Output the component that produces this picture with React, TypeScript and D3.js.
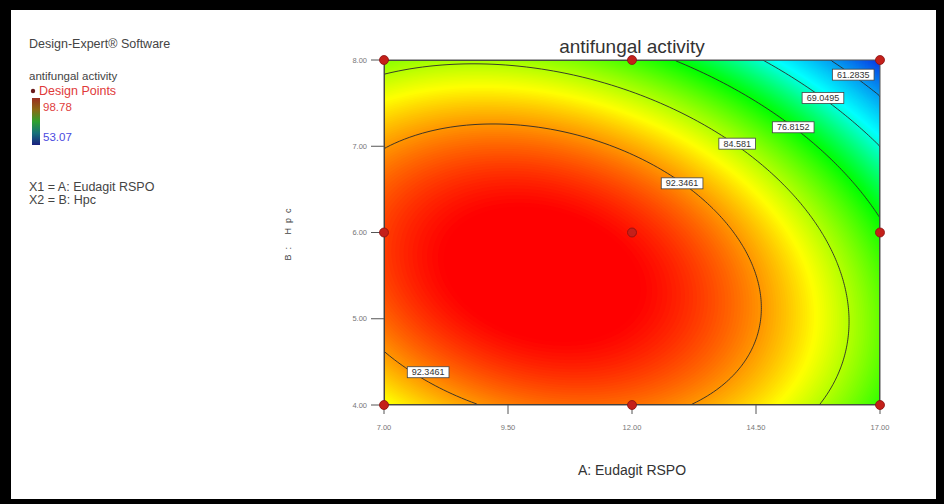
import React from "react";
import * as d3 from "d3";

// factor ranges and tick labels
const rangeA = [7, 17]; // A: Eudagit RSPO
const rangeB = [4, 8]; // B: Hpc
const xTicks = [7.0, 9.5, 12.0, 14.5, 17.0];
const yTicks = [4.0, 5.0, 6.0, 7.0, 8.0];

// design points (face-centred 3x3)
const designA = [7, 12, 17, 7, 12, 17, 7, 12, 17];
const designB = [4, 4, 4, 6, 6, 6, 8, 8, 8];

// fitted quadratic in coded units: const, A, B, AB, A^2, B^2
const coef = [97.91, -9.09, -7.22, -4.95, -10.9, -11.21];
const responseRange = [53.07, 98.78];

// contour levels and where their labels sit (A, B)
const contourLevels = [61.2835, 69.0495, 76.8152, 84.581, 92.3461];
const labelText = ["61.2835", "69.0495", "76.8152", "84.581", "92.3461", "92.3461"];
const labelA = [16.46, 15.85, 15.25, 14.12, 13.01, 7.89];
const labelB = [7.83, 7.56, 7.22, 7.03, 6.57, 4.38];

const font = "'Liberation Sans', Arial, sans-serif";

function model(A: number, B: number) {
  const a = (A - 12) / 5;
  const b = (B - 6) / 2;
  return (
    coef[0] + coef[1] * a + coef[2] * b + coef[3] * a * b + coef[4] * a * a + coef[5] * b * b
  );
}

function Chart() {
  const width = 944;
  const height = 504;
  const left = 384;
  const right = 880;
  const top = 60;
  const bottom = 405;

  const x = d3.scaleLinear().domain(rangeA).range([left, right]);
  const y = d3.scaleLinear().domain(rangeB).range([bottom, top]);

  const [lo, hi] = responseRange;
  const color = d3
    .scaleLinear<string>()
    .domain([0, 0.32, 0.52, 0.76, 1].map((t) => lo + t * (hi - lo)))
    .range(["#0a1ee0", "#00ffff", "#00ff00", "#ffff00", "#ff0000"])
    .clamp(true);

  // sample the surface on a grid
  const nx = 248;
  const ny = 172;
  const gA = d3.scaleLinear().domain([0, nx]).range(rangeA);
  const gB = d3.scaleLinear().domain([0, ny]).range([rangeB[1], rangeB[0]]);
  const values: number[] = new Array(nx * ny);
  for (let j = 0; j < ny; j++) {
    for (let i = 0; i < nx; i++) {
      values[j * nx + i] = model(gA(i + 0.5), gB(j + 0.5));
    }
  }

  const gx = d3.scaleLinear().domain([0, nx]).range([left, right]);
  const gy = d3.scaleLinear().domain([0, ny]).range([top, bottom]);
  const path = d3.geoPath(
    d3.geoTransform({
      point(px, py) {
        this.stream.point(gx(px), gy(py));
      },
    })
  );

  const bandThresholds = d3.range(40, 102, 0.2);
  const bands = d3.contours().size([nx, ny]).thresholds(bandThresholds)(values);
  const lines = d3.contours().size([nx, ny]).thresholds(contourLevels)(values);

  return (
    <svg
      width={width}
      height={height}
      style={{ position: "absolute", left: 0, top: 0, fontFamily: font }}
    >
      <rect width={width} height={height} fill="#000" />
      <rect x={11} y={10} width={925} height={489} fill="#fff" />

      {/* left info panel */}
      <text x={29} y={48} fontSize={12.5} fill="#444">
        Design-Expert® Software
      </text>
      <text x={29} y={80} fontSize={11.5} fill="#444">
        antifungal activity
      </text>
      <circle cx={33} cy={91} r={2.2} fill="#6a1a1a" />
      <text x={39} y={95} fontSize={12.5} fill="#e03a3a">
        Design Points
      </text>
      <defs>
        <linearGradient id="legendGrad" x1="0" y1="0" x2="0" y2="1">
          <stop offset="0" stopColor="#9b2d20" />
          <stop offset="0.25" stopColor="#8a6a15" />
          <stop offset="0.5" stopColor="#2ea02e" />
          <stop offset="0.75" stopColor="#17707a" />
          <stop offset="1" stopColor="#1a2080" />
        </linearGradient>
        <clipPath id="plotClip">
          <rect x={left} y={top} width={right - left} height={bottom - top} />
        </clipPath>
      </defs>
      <rect x={32} y={98} width={8} height={47} fill="url(#legendGrad)" />
      <text x={43} y={111} fontSize={11.5} fill="#e04040">
        {hi.toFixed(2)}
      </text>
      <text x={43} y={141} fontSize={11.5} fill="#4a4ae0">
        {lo.toFixed(2)}
      </text>
      <text x={29} y={191} fontSize={12.5} fill="#444">
        X1 = A: Eudagit RSPO
      </text>
      <text x={29} y={204} fontSize={12.5} fill="#444">
        X2 = B: Hpc
      </text>

      {/* title */}
      <text x={632} y={53} fontSize={19} fill="#333" textAnchor="middle">
        antifungal activity
      </text>

      {/* surface */}
      <g clipPath="url(#plotClip)">
        <rect
          x={left}
          y={top}
          width={right - left}
          height={bottom - top}
          fill={color(bandThresholds[0])}
        />
        {bands.map((c, i) => (
          <path key={i} d={path(c) || ""} fill={color(c.value + 0.1)} />
        ))}
        {lines.map((c, i) => (
          <path key={i} d={path(c) || ""} fill="none" stroke="#2a2a2a" strokeWidth={0.9} />
        ))}
      </g>
      <rect
        x={left}
        y={top}
        width={right - left}
        height={bottom - top}
        fill="none"
        stroke="#555"
        strokeWidth={1}
      />

      {/* contour labels */}
      {labelText.map((t, i) => {
        const w = t.length * 5.1 + 6;
        const cx = x(labelA[i]);
        const cy = y(labelB[i]);
        return (
          <g key={i}>
            <rect
              x={cx - w / 2}
              y={cy - 5.5}
              width={w}
              height={11}
              fill="#fff"
              stroke="#444"
              strokeWidth={0.8}
            />
            <text x={cx} y={cy + 3} fontSize={9} fill="#333" textAnchor="middle">
              {t}
            </text>
          </g>
        );
      })}

      {/* axes */}
      {yTicks.map((t, i) => (
        <g key={i}>
          <line x1={371} x2={left} y1={y(t)} y2={y(t)} stroke="#555" />
          <text x={367} y={y(t) + 2.5} fontSize={7.5} fill="#777" textAnchor="end">
            {d3.format(".2f")(t)}
          </text>
        </g>
      ))}
      {xTicks.map((t, i) => (
        <g key={i}>
          <line x1={x(t)} x2={x(t)} y1={bottom} y2={414} stroke="#555" />
          <text x={x(t)} y={430} fontSize={7.5} fill="#777" textAnchor="middle">
            {d3.format(".2f")(t)}
          </text>
        </g>
      ))}

      {/* design points */}
      {designA.map((a, i) => (
        <circle
          key={i}
          cx={x(a)}
          cy={y(designB[i])}
          r={4.5}
          fill="#c4201a"
          stroke="#8a1010"
          strokeWidth={0.8}
        />
      ))}

      <text x={632} y={475} fontSize={14} fill="#333" textAnchor="middle">
        A: Eudagit RSPO
      </text>
      <text
        transform="translate(291, 232) rotate(-90)"
        fontSize={9}
        fill="#444"
        textAnchor="middle"
        letterSpacing={5}
      >
        B: Hpc
      </text>
    </svg>
  );
}

export default function App() {
  return <Chart />;
}
